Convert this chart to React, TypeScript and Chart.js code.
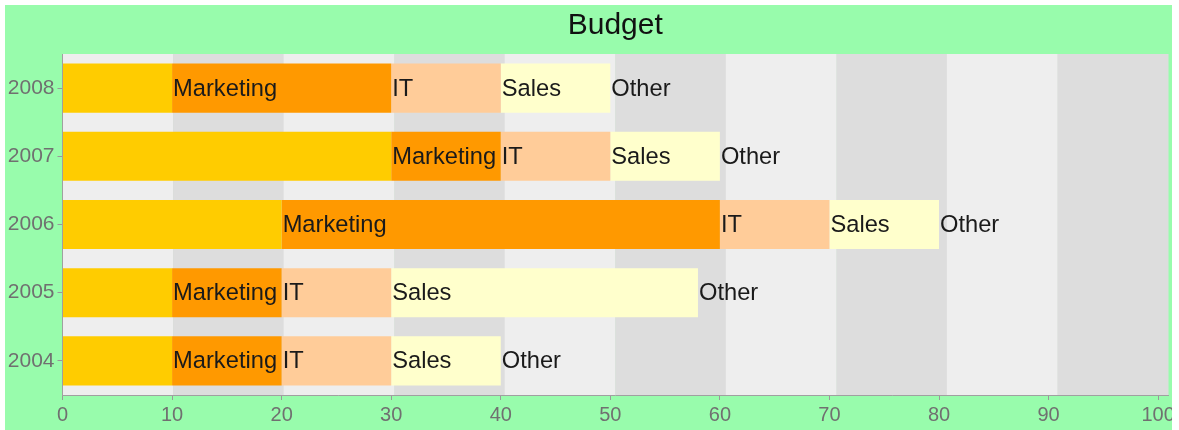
import React, { useEffect, useRef } from 'react';
import { Chart, registerables } from 'chart.js';

Chart.register(...registerables);

const years = ['2008', '2007', '2006', '2005', '2004'];
const seriesNames = ['Marketing', 'IT', 'Sales', 'Other'];
const marketing = [10, 30, 20, 10, 10];
const it = [20, 10, 40, 10, 10];
const sales = [10, 10, 10, 10, 10];
const other = [10, 10, 10, 28, 10];
const xTickValues = [0, 10, 20, 30, 40, 50, 60, 70, 80, 90, 100];

const seriesColors = ['#FFCC00', '#FF9900', '#FFCC99', '#FFFFCC'];
const FONT = '"Liberation Sans", Arial, Helvetica, sans-serif';

const bandPlugin = {
  id: 'bands',
  beforeDraw(chart: any) {
    const { ctx, chartArea: a } = chart;
    const w = (a.right - a.left) / 10;
    ctx.save();
    for (let i = 0; i < 10; i++) {
      ctx.fillStyle = i % 2 === 0 ? '#EEEEEE' : '#DDDDDD';
      ctx.fillRect(a.left + i * w, a.top, w + 0.5, a.bottom - a.top);
    }
    ctx.restore();
  },
};

const labelPlugin = {
  id: 'segLabels',
  afterDatasetsDraw(chart: any) {
    const { ctx } = chart;
    ctx.save();
    ctx.font = `23.7px ${FONT}`;
    ctx.fillStyle = '#1a1a1a';
    ctx.textAlign = 'left';
    ctx.textBaseline = 'middle';
    chart.data.datasets.forEach((ds: any, i: number) => {
      const meta = chart.getDatasetMeta(i);
      meta.data.forEach((bar: any) => {
        ctx.fillText(ds.label, bar.x + 1, bar.y + 1);
      });
    });
    ctx.restore();
  },
};

export default function App() {
  const ref = useRef<HTMLCanvasElement>(null);

  useEffect(() => {
    if (!ref.current) return;
    const values = [marketing, it, sales, other];
    const chart = new Chart(ref.current, {
      type: 'bar',
      data: {
        labels: years,
        datasets: seriesNames.map((name, i) => ({
          label: name,
          data: values[i],
          backgroundColor: seriesColors[i],
          borderWidth: 0,
          categoryPercentage: 1,
          barPercentage: 0.72,
        })),
      },
      options: {
        indexAxis: 'y',
        animation: false,
        responsive: false,
        layout: { padding: { left: 0, right: 4, top: 0, bottom: 0 } },
        plugins: {
          legend: { display: false },
          tooltip: { enabled: false },
          title: {
            display: true,
            text: 'Budget',
            fullSize: false,
            color: '#111111',
            font: { family: FONT, size: 30, weight: 'normal' },
            padding: { top: 3, bottom: 10 },
          },
        },
        scales: {
          x: {
            stacked: true,
            min: 0,
            max: 100.9,
            afterBuildTicks: (scale: any) => {
              scale.ticks = xTickValues.map((v) => ({ value: v }));
            },
            afterFit: (scale: any) => {
              scale.height = 35;
              scale.paddingRight = 0;
              scale.paddingLeft = 0;
            },
            grid: {
              drawOnChartArea: false,
              drawTicks: true,
              tickLength: 5,
              color: '#999999',
            },
            border: { display: true, color: '#A0A0A0', width: 1 },
            ticks: {
              color: '#707070',
              font: { family: FONT, size: 20 },
              padding: 3,
              maxRotation: 0,
              autoSkip: false,
            },
          },
          y: {
            stacked: true,
            afterFit: (scale: any) => {
              scale.width = 57.5;
              scale.paddingTop = 0;
              scale.paddingBottom = 0;
            },
            grid: {
              offset: false,
              drawOnChartArea: false,
              drawTicks: true,
              tickLength: 5,
              color: '#999999',
            },
            border: { display: true, color: '#A0A0A0', width: 1 },
            ticks: {
              color: '#707070',
              font: { family: FONT, size: 21 },
              padding: 3,
            },
          },
        },
      },
      plugins: [bandPlugin, labelPlugin],
    } as any);
    return () => chart.destroy();
  }, []);

  return (
    <div style={{ position: 'absolute', left: 5, top: 5, width: 1167, height: 425 }}>
      <canvas
        ref={ref}
        width={1167}
        height={425}
        style={{ display: 'block', background: 'rgb(152,252,172)' }}
      />
    </div>
  );
}
